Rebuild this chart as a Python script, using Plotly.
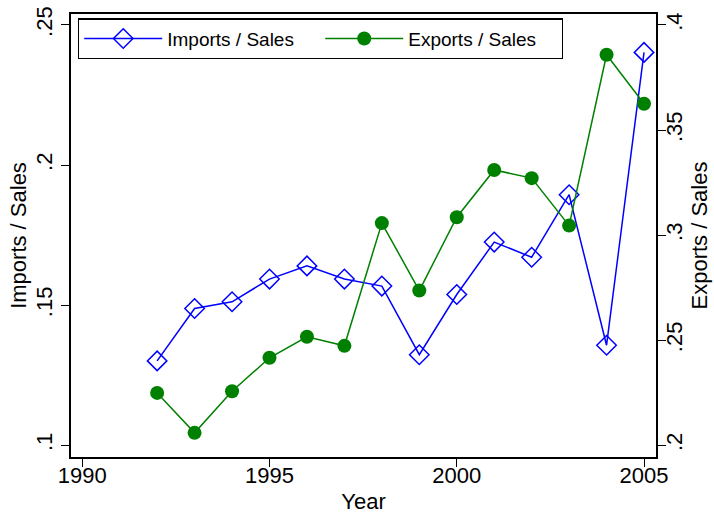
import plotly.graph_objects as go

# Annual ratios, 1992-2005
years = [1992, 1993, 1994, 1995, 1996, 1997, 1998, 1999, 2000, 2001, 2002, 2003, 2004, 2005]
imports_sales = [0.1301, 0.1488, 0.1512, 0.1593, 0.1640, 0.1593, 0.1568, 0.1323, 0.1538,
                 0.1725, 0.1671, 0.1894, 0.1357, 0.2402]
exports_sales = [0.2249, 0.2059, 0.2257, 0.2416, 0.2516, 0.2473, 0.3057, 0.2736, 0.3085,
                 0.3310, 0.3271, 0.3045, 0.3858, 0.3625]

x_ticks = [1990, 1995, 2000, 2005]
left_ticks = [0.10, 0.15, 0.20, 0.25]
left_labels = [".1", ".15", ".2", ".25"]
right_ticks = [0.20, 0.25, 0.30, 0.35, 0.40]
right_labels = [".2", ".25", ".3", ".35", ".4"]

BLUE = "#0000FF"
GREEN = "#008000"
FONT = "Liberation Sans, Arial, sans-serif"

fig = go.Figure()
fig.add_trace(go.Scatter(
    x=years, y=imports_sales, name="Imports / Sales", yaxis="y",
    mode="lines+markers",
    line=dict(color=BLUE, width=1.5),
    marker=dict(symbol="diamond-open", size=15, color=BLUE, line=dict(width=1.5, color=BLUE)),
))
fig.add_trace(go.Scatter(
    x=years, y=exports_sales, name="Exports / Sales", yaxis="y2",
    mode="lines+markers",
    line=dict(color=GREEN, width=1.5),
    marker=dict(symbol="circle", size=14, color=GREEN),
))

tickfont = dict(family=FONT, size=22, color="black")
titlefont = dict(family=FONT, size=22, color="black")

fig.update_layout(
    width=714, height=517,
    margin=dict(l=71, r=58, t=14, b=60),
    paper_bgcolor="white", plot_bgcolor="white",
    font=dict(family=FONT, color="black"),
    xaxis=dict(
        range=[1989.70, 2005.32], tickvals=x_ticks, ticktext=[str(v) for v in x_ticks],
        showgrid=False, zeroline=False, showline=True, linecolor="black", linewidth=1.5,
        mirror=True, ticks="outside", ticklen=8, tickcolor="black", tickwidth=1.2,
        tickfont=tickfont, ticklabelstandoff=-10,
        title=dict(text="Year", font=titlefont, standoff=6),
        automargin=False,
    ),
    yaxis=dict(
        range=[0.0958, 0.2539], tickvals=left_ticks, ticktext=left_labels,
        showgrid=False, zeroline=False, showline=True, linecolor="black", linewidth=1.5,
        ticks="outside", ticklen=8, tickcolor="black", tickwidth=1.2, tickangle=-90,
        tickfont=tickfont, title=dict(text="Imports / Sales", font=titlefont, standoff=0),
        automargin=False,
    ),
    yaxis2=dict(
        range=[0.1944, 0.4052], tickvals=right_ticks, ticktext=right_labels,
        overlaying="y", side="right",
        showgrid=False, zeroline=False, showline=True, linecolor="black", linewidth=1.5,
        ticks="outside", ticklen=8, tickcolor="black", tickwidth=1.2, tickangle=-90,
        tickfont=tickfont, ticklabelstandoff=-10,
        title=dict(text="Exports / Sales", font=titlefont, standoff=0),
        automargin=False,
    ),
    legend=dict(
        orientation="h", x=0.012, y=0.99, xanchor="left", yanchor="top",
        bgcolor="white", bordercolor="black", borderwidth=1.2,
        font=dict(family=FONT, size=19, color="black"),
        itemwidth=78, entrywidth=148, entrywidthmode="pixels",
    ),
    showlegend=True,
)

fig.write_html("out.html")
